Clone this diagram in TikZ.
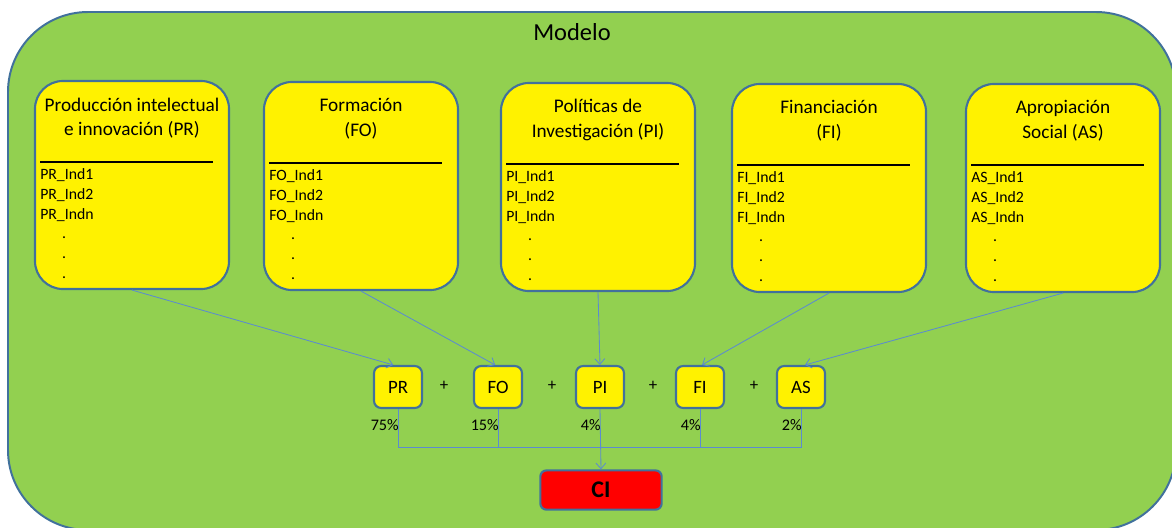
\documentclass[tikz,border=0pt]{standalone}
\usepackage{fontspec}
\setmainfont{Carlito}
\usetikzlibrary{arrows.meta}
\definecolor{fondo}{HTML}{92D050}
\definecolor{borde}{HTML}{41719C}
\definecolor{azul}{HTML}{5B8BD0}
\tikzset{
  marco/.style={draw=borde,line width=1.5pt,fill=yellow,rounded corners=0.7cm,
    minimum width=4.85cm,minimum height=5.2cm},
  titulo/.style={align=center,font=\fontsize{13.7}{17.5}\selectfont},
  item/.style={inner sep=0pt,font=\fontsize{11.2}{14}\selectfont},
  caja/.style={draw=borde,line width=1.5pt,fill=yellow,rounded corners=0.18cm,
    minimum width=1.2cm,minimum height=1.05cm,font=\fontsize{13.4}{16}\selectfont},
  pct/.style={inner sep=0pt,font=\fontsize{11.5}{14}\selectfont},
  conector/.style={draw=azul,line width=0.6pt,-{Straight Barb[length=4pt,width=7pt]}},
  linea/.style={draw=azul,line width=0.6pt}
}
\begin{document}
\begin{tikzpicture}[x=0.025cm,y=-0.025cm]
\useasboundingbox (0,0) rectangle (1172,527);
\draw[draw=borde,line width=1.4pt,fill=fondo,rounded corners=2cm] (8,12) rectangle (1176,530);
\node[font=\fontsize{17.4}{20}\selectfont] (modelo) at (572,32) {Modelo};
\foreach \n/\cx/\cy/\ta/\tb/\p in {pr/132/185/Producción intelectual/e innovación (PR)/PR,
    fo/361/186/Formación/(FO)/FO, pi/598/187/Políticas de/Investigación (PI)/PI,
    fi/829/188/Financiación/(FI)/FI, as/1063/188/Apropiación/Social (AS)/AS}{
  \node[marco] (\n) at (\cx,\cy) {};
  \node[titulo] (t\n) at (\cx,\cy-67) {\ta\\\tb};
  \draw[line width=0.8pt] (\cx-92,\cy-23) -- (\cx+81,\cy-23);
  \foreach \k/\s in {0/Ind1,1/Ind2,2/Indn}
    \node[item,anchor=west] (\n i\k) at (\cx-92,\cy-10+20*\k) {\p\_\s};
  \foreach \k in {0,1,2}
    \node[item] (\n d\k) at (\cx-68,\cy+53+20*\k) {.};
}
\foreach \n/\x/\w in {PR/398/75,FO/498/15,PI/600/4,FI/700/4,AS/801/2}{
  \node[caja] (c\n) at (\x,387) {\n};
  \node[pct,anchor=east] (w\n) at (\x+1,425) {\w\%};
}
\foreach \k/\x in {1/444,2/552,3/653,4/754}
  \node[font=\fontsize{12}{14}\selectfont] (mas\k) at (\x,386) {+};
\node[draw=borde,line width=1.5pt,fill=red,rounded corners=0.15cm,minimum width=3.03cm,
  minimum height=0.98cm,font=\fontsize{17}{20}\bfseries] (CI) at (601,490) {CI};
\coordinate (base) at (600,447);
\draw[conector] (pr.south) -- ([xshift=-0.12cm]cPR.north);
\draw[conector] (fo.south) -- ([xshift=-0.07cm]cFO.north);
\draw[conector] (pi.south) -- (cPI.north);
\draw[conector] (fi.south) -- ([xshift=0.05cm]cFI.north);
\draw[conector] (as.south) -- ([xshift=0.1cm]cAS.north);
\draw[linea] (cPR.south) |- (cAS.south |- base) -- (cAS.south);
\draw[linea] (cFO.south) -- (cFO.south |- base);
\draw[linea] (cFI.south) -- (cFI.south |- base);
\draw[conector] (cPI.south) -- (CI.north);
\end{tikzpicture}
\end{document}
